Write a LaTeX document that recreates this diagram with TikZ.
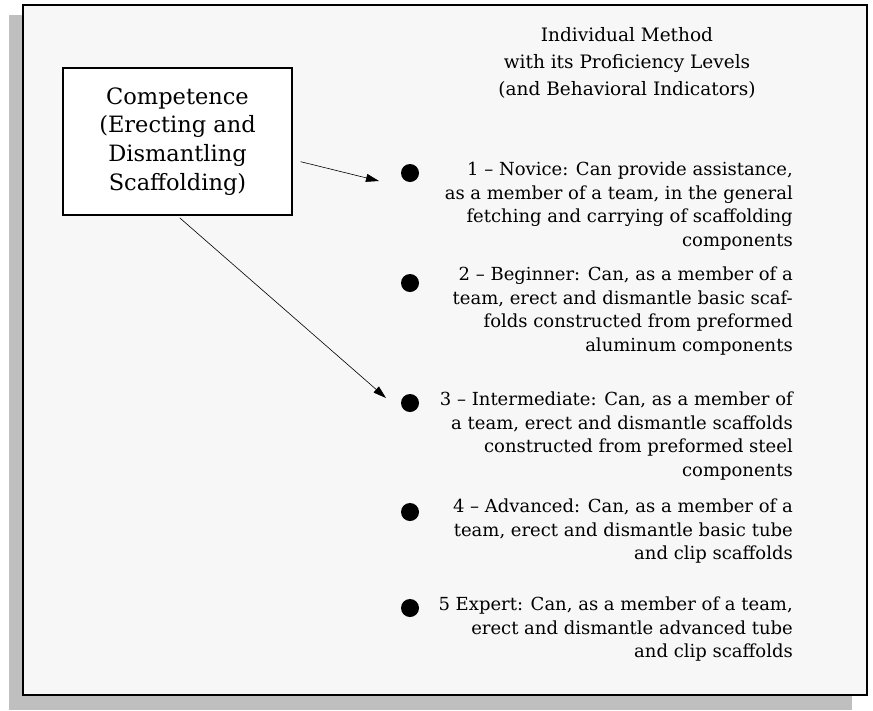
\documentclass[tikz,border=0pt]{standalone}
\usepackage{fontspec}
\setmainfont{DejaVu Serif}
\usetikzlibrary{arrows.meta,positioning}

\begin{document}
\begin{tikzpicture}[
  x=1pt, y=-1pt,
  every node/.style={inner sep=0pt},
  conn/.style={-{Triangle[length=13pt,width=8pt]}, line width=0.6pt},
  leveldot/.style={circle, fill=black, minimum size=18pt},
  leveltext/.style={anchor=north east, align=right, font=\fontsize{18}{23.5}\selectfont},
  compbox/.style={
    draw,
    fill=white,
    line width=1.8pt,
    align=center,
    minimum width=229pt,
    minimum height=147pt,
    font=\fontsize{22.5}{28.8}\selectfont
  }
]
\useasboundingbox (0,0) rectangle (873,710);

% shadowed frame
\fill[black!25] (9,15) rectangle (852,710);
\draw[line width=2pt, fill=black!3] (23,5) rectangle (867,695);

\node[align=center, font=\fontsize{18.5}{26.8}\selectfont] (title) at (627,63) {
  Individual Method\\
  with its Proficiency Levels\\
  (and Behavioral Indicators)
};

\node[compbox] (comp) at (177.5,141.5) {
  Competence\\
  (Erecting and\\
  Dismantling\\
  Scaffolding)
};

% proficiency levels
\node[leveldot] (dot1) at (410,173) {};
\node[leveltext] (lvl1) at (793,162) {
  1 – Novice: Can provide assistance,\\
  as a member of a team, in the general\\
  fetching and carrying of scaffolding\\
  components
};

\node[leveldot] (dot2) at (410,283) {};
\node[leveltext] (lvl2) at (793,267) {
  2 – Beginner: Can, as a member of a\\
  team, erect and dismantle basic scaf-\\
  folds constructed from preformed\\
  aluminum components
};

\node[leveldot] (dot3) at (410,403) {};
\node[leveltext] (lvl3) at (793,392) {
  3 – Intermediate: Can, as a member of\\
  a team, erect and dismantle scaffolds\\
  constructed from preformed steel\\
  components
};

\node[leveldot] (dot4) at (410,512) {};
\node[leveltext] (lvl4) at (793,499) {
  4 – Advanced: Can, as a member of a\\
  team, erect and dismantle basic tube\\
  and clip scaffolds
};

\node[leveldot] (dot5) at (410,608) {};
\node[leveltext] (lvl5) at (793,597) {
  5 Expert: Can, as a member of a team,\\
  erect and dismantle advanced tube\\
  and clip scaffolds
};

\draw[conn, shorten <=8pt] (comp.-9) -- ([shift={(-31,8)}]dot1.center);
\draw[conn, shorten <=3pt] (comp.south) -- ([shift={(-24,-5)}]dot3.center);

\end{tikzpicture}
\end{document}
